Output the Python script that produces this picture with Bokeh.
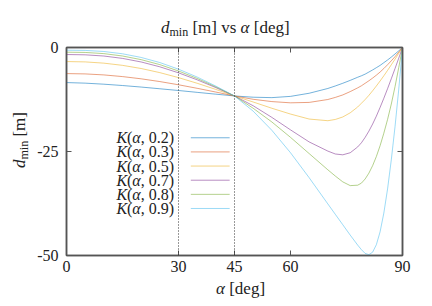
from bokeh.plotting import figure
from bokeh.models import (Range1d, LinearAxis, FixedTicker, ColumnDataSource, Span, Div,
                          CustomLabelingPolicy)
from bokeh.layouts import column, row
from bokeh.core.properties import value
from bokeh.embed import file_html
from bokeh.resources import INLINE

# ---------------- data ----------------
alpha_deg = [0, 5, 10, 15, 20, 25, 30, 35, 40, 45, 50, 55, 60, 65, 70, 72, 74, 76, 78,
             79, 80, 81, 82, 83, 84, 85, 86, 87, 88, 89, 90]
k_values = [0.2, 0.3, 0.5, 0.7, 0.8, 0.9]

d_k02 = [-8.43, -8.57, -8.82, -9.14, -9.51, -9.92, -10.34, -10.78, -11.22, -11.65, -11.95, -12.05,
         -11.75, -11.0, -9.85, -9.25, -8.6, -7.9, -7.15, -6.8, -6.4, -5.9, -5.4, -4.85, -4.3,
         -3.65, -3.0, -2.3, -1.55, -0.8, 0.0]
d_k03 = [-6.27, -6.35, -6.59, -6.99, -7.53, -8.19, -8.96, -9.81, -10.71, -11.65, -12.45, -13.0,
         -13.3, -13.2, -12.5, -12.0, -11.4, -10.6, -9.7, -9.2, -8.6, -8.0, -7.35, -6.65, -5.9,
         -5.05, -4.15, -3.2, -2.2, -1.1, 0.0]
d_k05 = [-3.38, -3.46, -3.76, -4.29, -5.05, -6.04, -7.24, -8.60, -10.08, -11.65, -13.1, -14.6,
         -16.0, -17.2, -17.6, -17.3, -16.7, -15.7, -14.3, -13.4, -12.5, -11.5, -10.4, -9.25,
         -8.05, -6.8, -5.5, -4.15, -2.8, -1.4, 0.0]
d_k07 = [-1.69, -1.76, -2.05, -2.62, -3.48, -4.64, -6.09, -7.77, -9.64, -11.65, -14.0, -16.8,
         -19.8, -22.7, -24.9, -25.6, -25.8, -25.3, -23.9, -22.9, -21.6, -20.1, -18.4, -16.5,
         -14.4, -12.2, -9.9, -7.5, -5.05, -2.55, 0.0]
d_k08 = [-1.13, -1.19, -1.47, -2.04, -2.92, -4.12, -5.65, -7.44, -9.46, -11.65, -14.6, -17.9,
         -21.6, -25.5, -29.4, -30.9, -32.3, -33.2, -33.1, -32.6, -31.6, -30.2, -28.4, -26.2,
         -23.6, -20.6, -17.3, -13.6, -9.4, -4.8, 0.0]
d_k09 = [-0.65, -0.70, -0.96, -1.51, -2.39, -3.62, -5.21, -7.11, -9.28, -11.65, -15.3, -19.9,
         -25.3, -31.3, -37.6, -40.1, -42.6, -45.1, -47.5, -48.6, -49.5, -49.8, -49.2, -47.4,
         -44.3, -39.8, -34.0, -27.0, -19.0, -10.0, 0.0]
series = [d_k02, d_k03, d_k05, d_k07, d_k08, d_k09]

x_ticks = [0, 30, 45, 60, 90]
y_ticks = [-50, -25, 0]
guide_alphas = [30, 45]
x_limits = (0, 90)
y_limits = (-50, 0)

# ---------------- styling ----------------
colors = ["#0072BD", "#D95319", "#EDB120", "#7E2F8E", "#77AC30", "#4DBEEE"]
SERIF = "Liberation Serif"
FRAME = "#555555"
INK = "#222222"
FONT_CSS = f"font-family:'{SERIF}',serif;color:{INK};white-space:nowrap;line-height:1;"

p = figure(width=394, height=239, x_range=Range1d(*x_limits), y_range=Range1d(*y_limits),
           output_backend="svg", toolbar_location=None, margin=0,
           min_border_left=36, min_border_right=22, min_border_top=7, min_border_bottom=24)
p.grid.visible = False
p.outline_line_color = FRAME
p.outline_line_width = 1.5
p.background_fill_color = "white"
p.border_fill_color = None

# mirror axes (gnuplot style): ticks only, no labels drawn at all
NO_LABELS = CustomLabelingPolicy(code="""
try {
  if (typeof indices.clear === "function") { indices.clear() }
  else if (typeof indices.unset === "function") {
    for (let i = 0; i < indices.size; i++) { indices.unset(i) }
  }
} catch (e) {}
return indices
""")


def style_axis(ax, labels=True, standoff=6):
    ax.axis_line_color = FRAME
    ax.axis_line_width = 1.5
    ax.major_tick_line_color = FRAME
    ax.major_tick_line_width = 1
    ax.major_tick_in = 5
    ax.major_tick_out = 0
    ax.minor_tick_line_color = None
    ax.major_label_text_font = SERIF
    ax.major_label_text_color = INK
    ax.major_label_text_font_size = "16px" if labels else "0px"
    ax.major_label_standoff = standoff
    if not labels:
        ax.major_label_policy = NO_LABELS


p.xaxis.ticker = FixedTicker(ticks=x_ticks)
p.yaxis.ticker = FixedTicker(ticks=y_ticks)
p.yaxis.major_label_overrides = {t: str(t) for t in y_ticks}
style_axis(p.xaxis[0], True, 5)
style_axis(p.yaxis[0], True, 8)

top_ax = LinearAxis(ticker=FixedTicker(ticks=x_ticks))
style_axis(top_ax, False, 0)
p.add_layout(top_ax, "above")
right_ax = LinearAxis(ticker=FixedTicker(ticks=y_ticks))
style_axis(right_ax, False, 0)
p.add_layout(right_ax, "right")

for a in guide_alphas:
    p.add_layout(Span(location=a, dimension="height", line_color="#333333",
                      line_dash="1 2", line_width=1))

for ys, c in zip(series, colors):
    p.line(alpha_deg, ys, line_color=c, line_width=1, line_alpha=0.55)

# ---------------- legend (gnuplot style: text left, sample right) ----------------
LEG_TEXT_X = 28.8
LEG_LINE_X0, LEG_LINE_X1 = 33.3, 43.7
LEG_Y0, LEG_DY = -21.7, -3.4
rows_y = [LEG_Y0 + i * LEG_DY for i in range(len(k_values))]
leg = ColumnDataSource(dict(
    y=rows_y, x=[LEG_TEXT_X] * len(k_values),
    x0=[LEG_LINE_X0] * len(k_values), x1=[LEG_LINE_X1] * len(k_values),
    tail=[f", {k})" for k in k_values], c=colors))
p.segment(x0="x0", y0="y", x1="x1", y1="y", source=leg, line_color="c",
          line_width=1, line_alpha=0.55)
common = dict(source=leg, text_font=value(SERIF), text_font_size="16px",
              text_align="right", text_baseline="middle", text_color=INK)
p.text(x="x", y="y", text="tail", x_offset=0, **common)
p.text(x="x", y="y", text=value("α"), x_offset=-33.3, text_font_style="italic", **common)
p.text(x="x", y="y", text=value("("), x_offset=-41.6, **common)
p.text(x="x", y="y", text=value("K"), x_offset=-46.9, text_font_style="italic", **common)

# ---------------- title and axis labels (HTML text, mixed math styling) ----------------
SUB = '<span style="font-size:12px;vertical-align:-3px">min</span>'

title_div = Div(width=424, height=40, margin=0, styles={"overflow": "visible"}, text=(
    '<div style="position:relative;width:424px;height:40px;">'
    f'<span style="position:absolute;left:161px;top:19px;font-size:17px;{FONT_CSS}">'
    f'<i>d</i>{SUB} [m] vs <i>α</i> [deg]</span></div>'))

ylabel_div = Div(width=30, height=239, margin=0, styles={"overflow": "visible"}, text=(
    '<div style="position:relative;width:30px;height:239px;">'
    f'<span style="position:absolute;left:11px;top:128px;font-size:17px;'
    f'transform:rotate(-90deg);transform-origin:0 0;{FONT_CSS}">'
    f'<i>d</i>{SUB} [m]</span></div>'))

xlabel_div = Div(width=424, height=19, margin=0, styles={"overflow": "visible"}, text=(
    '<div style="position:relative;width:424px;height:19px;">'
    f'<span style="position:absolute;left:216px;top:1px;font-size:17px;{FONT_CSS}">'
    '<i>α</i> [deg]</span></div>'))

layout = column(title_div, row(ylabel_div, p, spacing=0), xlabel_div, spacing=0)

open("out.html", "w").write(file_html(layout, INLINE))
